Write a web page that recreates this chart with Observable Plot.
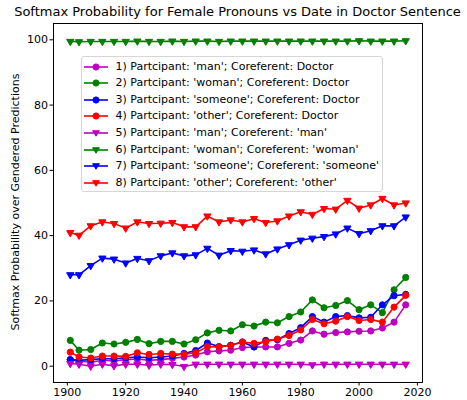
<!DOCTYPE html>
<html>
<head>
<meta charset="utf-8">
<script src="https://cdn.jsdelivr.net/npm/d3@7"></script>
<script src="https://cdn.jsdelivr.net/npm/@observablehq/plot@0.6"></script>
<style>
  html, body { margin: 0; padding: 0; background: #fff; }
  #wrap { position: relative; width: 467px; height: 400px; font-family: "DejaVu Sans", sans-serif; color: #000; }
  #title { position: absolute; left: 0; width: 475px; top: 4px; text-align: center; font-size: 13px; white-space: nowrap; }
  #ylabel { position: absolute; left: 15px; top: 202px; font-size: 11px; white-space: nowrap; transform: translate(-50%, -50%) rotate(-90deg); }
  #legend { position: absolute; left: 80.5px; top: 56px; width: 302px; height: 136px; box-sizing: border-box;
            border: 1px solid #d6d6d6; border-radius: 3px; background: rgba(255,255,255,0.8); }
  .row { position: absolute; left: 0; height: 16px; line-height: 16px; font-size: 11px; white-space: nowrap; }
  .row svg { position: absolute; left: 2px; top: 0; }
  .row span { position: absolute; left: 34px; top: 0; }
</style>
</head>
<body>
<div id="wrap">
  <div id="chart"></div>
  <div id="title">Softmax Probability for Female Pronouns vs Date in Doctor Sentence</div>
  <div id="ylabel">Softmax Probability over Gendered Predictions</div>
  <div id="legend"></div>
</div>
<script>
const years = [1901, 1904, 1908, 1912, 1916, 1920, 1924, 1928, 1932, 1936, 1940, 1944, 1948, 1952, 1956,
               1960, 1964, 1968, 1972, 1976, 1980, 1984, 1988, 1992, 1996, 2000, 2004, 2008, 2012, 2016];

const s1 = [2.0, 1.6, 1.2, 1.8, 1.6, 2.0, 2.2, 1.8, 2.0, 2.4, 2.8, 3.4, 4.4, 4.7, 4.9, 5.7, 5.9, 5.9, 5.9, 7.0, 8.0, 10.8, 9.8, 10.3, 10.5, 10.7, 10.8, 11.7, 13.5, 18.8];
const s2 = [7.9, 4.9, 5.1, 7.1, 6.8, 7.3, 8.2, 6.9, 7.6, 7.6, 6.8, 8.1, 10.2, 11.0, 10.8, 12.7, 12.3, 13.5, 13.3, 15.2, 16.6, 20.3, 17.9, 18.6, 20.1, 17.3, 18.8, 16.4, 23.4, 27.2];
const s3 = [2.0, 1.8, 2.0, 2.3, 2.3, 2.6, 2.8, 2.6, 2.8, 3.1, 3.9, 4.8, 7.1, 6.0, 6.4, 7.4, 5.9, 7.9, 8.1, 10.0, 11.8, 15.2, 13.5, 15.2, 15.5, 14.8, 15.0, 18.8, 21.6, 22.0];
const s4 = [4.3, 2.8, 2.5, 3.1, 3.1, 3.0, 4.1, 3.6, 3.9, 3.7, 3.7, 4.1, 6.0, 5.9, 6.4, 7.4, 7.0, 7.5, 8.3, 9.4, 11.1, 14.3, 13.0, 13.8, 15.2, 14.0, 14.3, 13.5, 18.1, 21.7];
const s5 = [0.8, 0.6, 0.0, 0.6, 0.1, 0.6, 0.6, 0.3, 0.6, 0.5, -0.1, 0.6, 0.6, 0.6, 0.6, 0.6, 0.6, 0.6, 0.6, 0.6, 0.6, 0.4, 0.6, 0.6, 0.6, 0.6, 0.6, 0.6, 0.6, 0.6];
const s6 = [99.5, 99.4, 99.5, 99.5, 99.5, 99.5, 99.6, 99.5, 99.5, 99.6, 99.5, 99.6, 99.6, 99.5, 99.6, 99.6, 99.6, 99.6, 99.6, 99.6, 99.6, 99.6, 99.6, 99.6, 99.6, 99.7, 99.6, 99.6, 99.6, 99.7];
const s7 = [28.0, 28.0, 30.8, 33.1, 32.8, 31.6, 33.0, 32.3, 33.8, 34.7, 33.8, 34.1, 36.1, 34.0, 35.4, 35.2, 35.6, 34.4, 35.9, 37.2, 38.6, 39.2, 39.7, 40.5, 42.3, 40.6, 41.5, 43.0, 43.0, 45.7];
const s8 = [40.9, 40.1, 43.0, 44.2, 43.7, 42.3, 44.2, 43.7, 43.8, 44.0, 42.7, 42.7, 46.0, 44.2, 44.8, 44.2, 45.2, 44.0, 44.5, 46.0, 47.3, 46.5, 48.3, 48.1, 50.8, 48.4, 49.4, 51.4, 49.4, 50.0];

const seriesLabels = [
  "1) Partcipant: 'man'; Coreferent: Doctor",
  "2) Partcipant: 'woman'; Coreferent: Doctor",
  "3) Partcipant: 'someone'; Coreferent: Doctor",
  "4) Partcipant: 'other'; Coreferent: Doctor",
  "5) Partcipant: 'man'; Coreferent: 'man'",
  "6) Partcipant: 'woman'; Coreferent: 'woman'",
  "7) Partcipant: 'someone'; Coreferent: 'someone'",
  "8) Partcipant: 'other'; Coreferent: 'other'"
];
const seriesColors = ["#bf00bf", "#008000", "#0000ff", "#ff0000", "#bf00bf", "#008000", "#0000ff", "#ff0000"];
const seriesMarkers = ["circle", "circle", "circle", "circle", "tri", "tri", "tri", "tri"];
const xTicks = [1900, 1920, 1940, 1960, 1980, 2000, 2020];
const yTicks = [0, 20, 40, 60, 80, 100];

const allSeries = [s1, s2, s3, s4, s5, s6, s7, s8];

const seriesMarks = [];
allSeries.forEach((vals, i) => {
  const rows = years.map((yr, j) => ({year: yr, value: vals[j]}));
  const color = seriesColors[i];
  seriesMarks.push(Plot.line(rows, {x: "year", y: "value", stroke: color, strokeWidth: 1.6}));
  if (seriesMarkers[i] === "circle") {
    seriesMarks.push(Plot.dot(rows, {x: "year", y: "value", r: 3.1, symbol: "circle", fill: color, stroke: color, strokeWidth: 1}));
  } else {
    seriesMarks.push(Plot.dot(rows, {x: "year", y: "value", r: 2.7, symbol: "triangle", rotate: 180, fill: color, stroke: color, strokeWidth: 1}));
  }
});

const chart = Plot.plot({
  width: 467,
  height: 400,
  marginLeft: 53,
  marginRight: 45,
  marginTop: 23,
  marginBottom: 18,
  style: {fontFamily: "DejaVu Sans", fontSize: "11px", color: "#000", background: "transparent"},
  x: {domain: [1895.25, 2021.75]},
  y: {domain: [-5, 105]},
  marks: [
    Plot.axisX({ticks: xTicks, tickSize: 3.5, tickPadding: 2, tickFormat: d => String(d), label: null, fontSize: 11}),
    Plot.axisY({ticks: yTicks, tickSize: 3.5, tickPadding: 2, tickFormat: d => String(d), label: null, fontSize: 11}),
    ...seriesMarks,
    Plot.frame({stroke: "#000", strokeWidth: 1})
  ]
});
document.getElementById("chart").appendChild(chart);

// legend
const legend = document.getElementById("legend");
seriesLabels.forEach((lab, i) => {
  const row = document.createElement("div");
  row.className = "row";
  row.style.top = (1.5 + i * 16.65) + "px";
  row.style.width = "300px";
  const color = seriesColors[i];
  const marker = seriesMarkers[i] === "circle"
    ? `<circle cx="12" cy="8" r="3.1" fill="${color}" stroke="${color}" stroke-width="1"/>`
    : `<path d="M8.6,5.7 L15.4,5.7 L12,11.2 Z" fill="${color}" stroke="${color}" stroke-width="1"/>`;
  row.innerHTML = `<svg width="24" height="16"><line x1="0" y1="8" x2="24" y2="8" stroke="${color}" stroke-width="1.6"/>${marker}</svg><span>${lab}</span>`;
  legend.appendChild(row);
});
</script>
</body>
</html>
